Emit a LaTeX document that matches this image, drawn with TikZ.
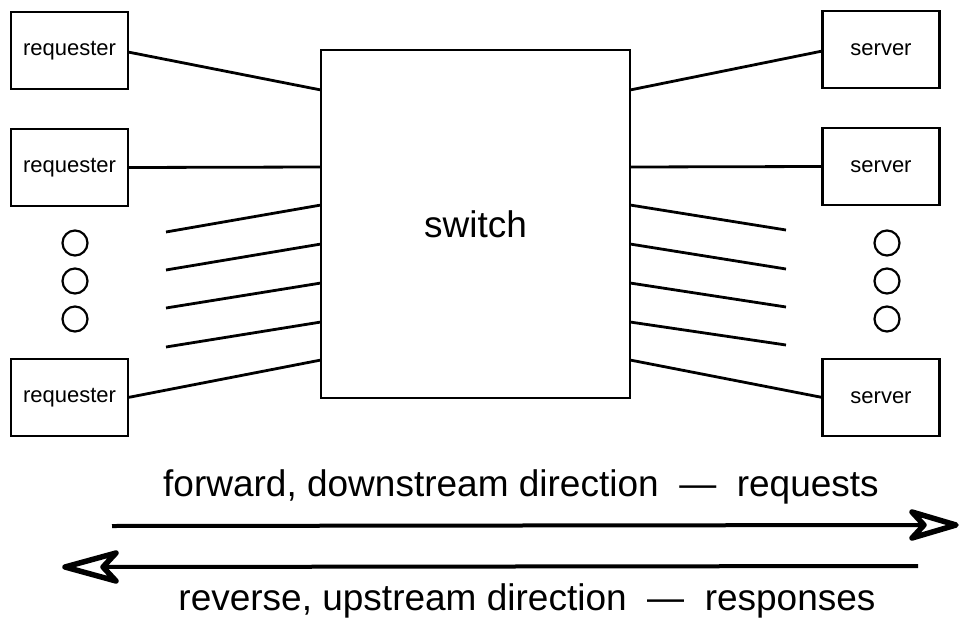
\documentclass[tikz,border=0pt]{standalone}
\usepackage{fontspec}
\setmainfont{Liberation Sans}
\usetikzlibrary{calc}
\tikzset{ end_box/.style = {rectangle, draw, line width=2.4pt, outer sep=0pt, minimum width=117pt, minimum height=77pt, font=\fontsize{22}{24}\selectfont} }
\tikzset{ hub_box/.style = {rectangle, draw, line width=2.6pt, outer sep=0pt, minimum width=309pt, minimum height=348pt, font=\fontsize{37}{40}\selectfont} }
\tikzset{ more_dot/.style = {circle, draw, line width=2.2pt, minimum size=25pt, inner sep=0pt} }
\tikzset{ link/.style = {line width=2.8pt} }
\tikzset{ flow/.style = {line width=4pt} }
\tikzset{ flow_head/.style = {line width=5.5pt, line join=round, line cap=round} }
\tikzset{ caption/.style = {font=\fontsize{37}{40}\selectfont} }

\begin{document}
\begin{tikzpicture}[x=1pt,y=-1pt]
    \useasboundingbox (0,0) rectangle (961,626);
    % switch in the middle
    \node [style=hub_box] (sw) at (475.5, 224) {switch};
    % requesters
    \node [style=end_box] (req1) at (69.5, 50.5) {requester};
    \node [style=end_box] (req2) at (69.5, 167.5) {requester};
    \node [style=end_box] (req3) at (69.5, 397.5) {requester};
    \node [style=more_dot] (ldot1) at (75, 243) {};
    \node [style=more_dot] (ldot2) at (75, 281) {};
    \node [style=more_dot] (ldot3) at (75, 319) {};
    % servers
    \node [style=end_box] (srv1) at (881, 49.5) {server};
    \node [style=end_box] (srv2) at (881, 166.5) {server};
    \node [style=end_box] (srv3) at (881, 397.5) {server};
    \node [style=more_dot] (rdot1) at (887, 243) {};
    \node [style=more_dot] (rdot2) at (887, 281) {};
    \node [style=more_dot] (rdot3) at (887, 319) {};
    % ports on the switch
    \coordinate (lp1) at (321, 90);
    \coordinate (lp2) at (321, 167);
    \coordinate (lp3) at (321, 205);
    \coordinate (lp4) at (321, 244);
    \coordinate (lp5) at (321, 283);
    \coordinate (lp6) at (321, 322);
    \coordinate (lp7) at (321, 360);
    \coordinate (rp1) at (630, 90);
    \coordinate (rp2) at (630, 167);
    \coordinate (rp3) at (630, 205);
    \coordinate (rp4) at (630, 244);
    \coordinate (rp5) at (630, 283);
    \coordinate (rp6) at (630, 322);
    \coordinate (rp7) at (630, 360);
    % loose ends
    \coordinate (ls1) at (166, 232);
    \coordinate (ls2) at (166, 270);
    \coordinate (ls3) at (166, 308);
    \coordinate (ls4) at (166, 347);
    \coordinate (rs1) at (786, 230);
    \coordinate (rs2) at (786, 269);
    \coordinate (rs3) at (786, 307);
    \coordinate (rs4) at (786, 345);
    \draw [style=link] (req1.east |- 0,52) to (lp1);
    \draw [style=link] (req2.east) to (lp2);
    \draw [style=link] (ls1) to (lp3);
    \draw [style=link] (ls2) to (lp4);
    \draw [style=link] (ls3) to (lp5);
    \draw [style=link] (ls4) to (lp6);
    \draw [style=link] (req3.east) to (lp7);
    \draw [style=link] (rp1) to (srv1.west |- 0,51);
    \draw [style=link] (rp2) to (srv2.west);
    \draw [style=link] (rp3) to (rs1);
    \draw [style=link] (rp4) to (rs2);
    \draw [style=link] (rp5) to (rs3);
    \draw [style=link] (rp6) to (rs4);
    \draw [style=link] (rp7) to (srv3.west);
    % directions
    \node [style=caption] (fwd_txt) at (521, 487) {forward, downstream direction \ --- \ requests};
    \node [style=caption] (rev_txt) at (527, 601) {reverse, upstream direction \ --- \ responses};
    \coordinate (fwd_a) at (112, 526);
    \coordinate (fwd_b) at (956, 525);
    \coordinate (rev_a) at (918, 566);
    \coordinate (rev_b) at (65, 567);
    \draw [style=flow] (fwd_a) to ($(fwd_b)+(-32,0)$);
    \draw [style=flow_head] (fwd_b) -- ++(-44,-13) -- ++(12,13) -- ++(-12,13) -- cycle;
    \draw [style=flow] (rev_a) to ($(rev_b)+(38,0)$);
    \draw [style=flow_head] (rev_b) -- ++(51,-14) -- ++(-13,14) -- ++(13,14) -- cycle;
\end{tikzpicture}
\end{document}
